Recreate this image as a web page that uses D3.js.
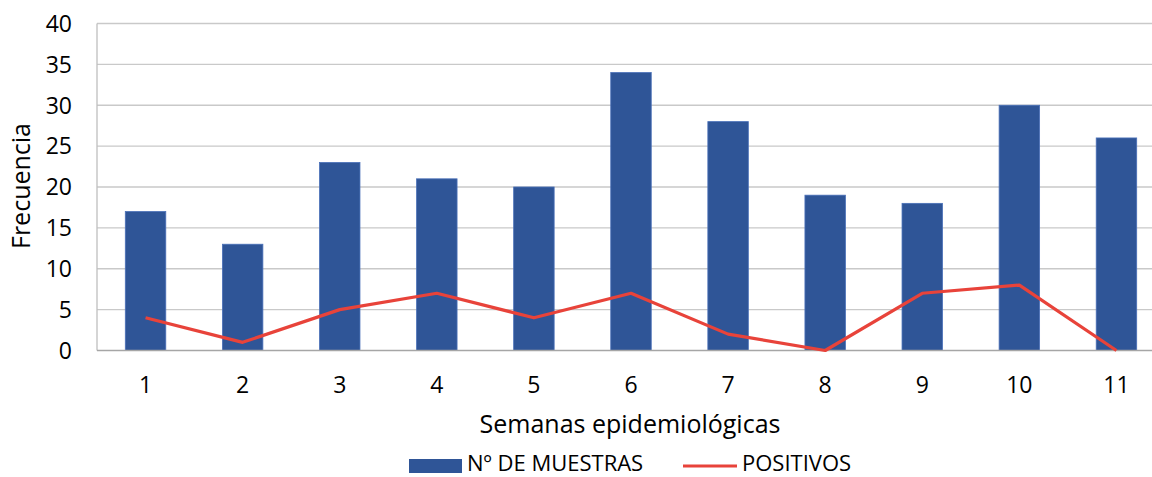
<!DOCTYPE html>
<html><head><meta charset="utf-8">
<script src="https://cdn.jsdelivr.net/npm/d3@7"></script>
<style>body{margin:0;background:#fff}svg{display:block}text{font-family:"Open Sans",sans-serif;fill:#000}</style>
</head><body>
<script>
const categories = ["1","2","3","4","5","6","7","8","9","10","11"];
const muestras = [17,13,23,21,20,34,28,19,18,30,26];
const positivos = [4,1,5,7,4,7,2,0,7,8,0];
const yTicks = [0,5,10,15,20,25,30,35,40];

const W=1152,H=477;
const svg=d3.select("body").append("svg").attr("width",W).attr("height",H);
const x=d3.scaleBand().domain(categories).range([97,1165]).paddingInner(0).paddingOuter(0);
const y=d3.scaleLinear().domain([0,40]).range([350.5,23.5]);
const barW=x.bandwidth()*0.417;

// gridlines
svg.append("g").selectAll("line").data(yTicks.filter(d=>d>0)).join("line")
  .attr("x1",97).attr("x2",W).attr("y1",d=>y(d)).attr("y2",d=>y(d))
  .attr("stroke","#C9C9C9").attr("stroke-width",1.3);
// left axis line
svg.append("line").attr("x1",97).attr("x2",97).attr("y1",y(40)).attr("y2",y(0)).attr("stroke","#BFBFBF").attr("stroke-width",1.3);

// bars
svg.append("g").selectAll("rect").data(muestras).join("rect")
  .attr("x",(d,i)=>x(categories[i])+x.bandwidth()/2-barW/2)
  .attr("width",barW)
  .attr("y",d=>y(d)).attr("height",d=>y(0)-y(d))
  .attr("fill","#2F5597").attr("stroke","#4A70B8").attr("stroke-width",0.8);

// x axis line
svg.append("line").attr("x1",97).attr("x2",W).attr("y1",y(0)).attr("y2",y(0)).attr("stroke","#A6A6A6").attr("stroke-width",1.5);

// line
const line=d3.line().x((d,i)=>x(categories[i])+x.bandwidth()/2).y(d=>y(d));
svg.append("path").datum(positivos).attr("d",line).attr("fill","none")
  .attr("stroke","#E8433A").attr("stroke-width",3.2).attr("stroke-linejoin","round");

// y tick labels
svg.append("g").selectAll("text").data(yTicks).join("text")
  .attr("x",72).attr("y",d=>y(d)).attr("dy","0.36em").attr("text-anchor","end")
  .attr("font-size",23).text(d=>d);
// x tick labels
svg.append("g").selectAll("text").data(categories).join("text")
  .attr("x",d=>x(d)+x.bandwidth()/2).attr("y",385).attr("dy","0.36em").attr("text-anchor","middle")
  .attr("font-size",23).text(d=>d);
// axis titles
svg.append("text").attr("x",630).attr("y",424).attr("dy","0.36em").attr("text-anchor","middle").attr("font-size",25).text("Semanas epidemiológicas");
svg.append("text").attr("transform","translate(21,186) rotate(-90)").attr("dy","0.36em").attr("text-anchor","middle").attr("font-size",25).text("Frecuencia");

// legend
const lg=svg.append("g");
lg.append("rect").attr("x",409).attr("y",459).attr("width",53).attr("height",14).attr("fill","#2F5597");
lg.append("text").attr("x",467).attr("y",471).attr("font-size",22).text("Nº DE MUESTRAS");
lg.append("line").attr("x1",683).attr("x2",737).attr("y1",466).attr("y2",466).attr("stroke","#E8433A").attr("stroke-width",3.2);
lg.append("text").attr("x",742).attr("y",471).attr("font-size",22).text("POSITIVOS");
</script>
</body></html>
